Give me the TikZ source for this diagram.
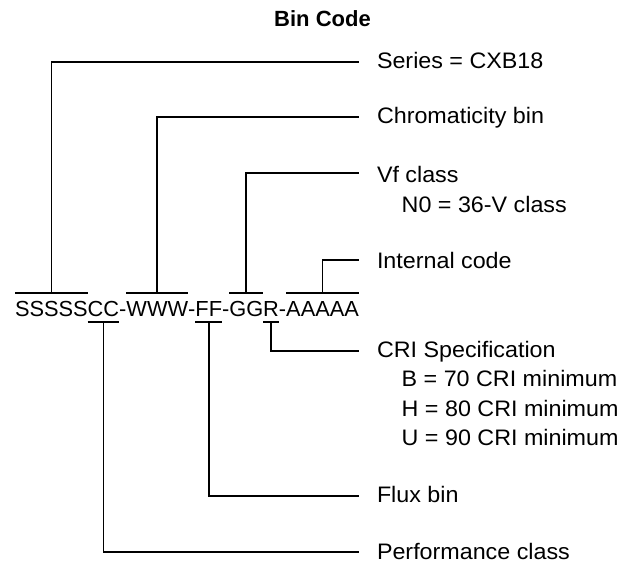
\documentclass[tikz,border=0pt]{standalone}
\usepackage{fontspec}
\setmainfont{Liberation Sans}
\newfontfamily\labfont[FakeStretch=1.04]{Liberation Sans}
\begin{document}
\begin{tikzpicture}[x=1pt,y=-1pt,line width=1.7pt,
  code/.style={inner sep=0pt,outer sep=0pt,anchor=base west,font=\fontsize{21.8}{26}\selectfont},
  lab/.style={inner sep=0pt,outer sep=0pt,anchor=base west,font=\labfont\fontsize{22.4}{26}\selectfont},
  ttl/.style={inner sep=0pt,anchor=base,font=\bfseries\fontsize{22}{26}\selectfont}]
\useasboundingbox (0,0) rectangle (637,567);
\node[ttl] (title) at (322.5,26.5) {Bin Code};
% code string
\node[code] (s) at (15,316.5) {SSSSS};
\node[code] (c) at (s.base east) {CC};
\node[code] (h1) at (c.base east) {-};
\node[code] (w) at (h1.base east) {WWW};
\node[code] (h2) at (w.base east) {-};
\node[code] (f) at (h2.base east) {FF};
\node[code] (h3) at (f.base east) {-};
\node[code] (g) at (h3.base east) {GG};
\node[code] (r) at (g.base east) {R};
\node[code] (h4) at (r.base east) {-};
\node[code] (a) at (h4.base east) {AAAAA};
\coordinate (ob) at (0,293.3);
\coordinate (ub) at (0,321.7);
% over/under bars
\draw (s.west |- ob) -- (s.east |- ob);
\draw (w.west |- ob) -- (w.east |- ob);
\draw (g.west |- ob) -- (g.east |- ob);
\draw (a.west |- ob) -- (a.east |- ob);
\draw (c.west |- ub) -- (c.east |- ub);
\draw (f.west |- ub) -- (f.east |- ub);
\draw (r.west |- ub) -- (r.east |- ub);
% connector ends
\coordinate (eSer) at (359,61.7);
\coordinate (eChr) at (359,116.7);
\coordinate (eVf) at (359,173.3);
\coordinate (eInt) at (359,260);
\coordinate (eCri) at (359,351);
\coordinate (eFlux) at (359,495.7);
\coordinate (ePerf) at (359,552.3);
\draw (s.north |- ob) |- (eSer);
\draw (w.north |- ob) |- (eChr);
\draw (g.north |- ob) |- (eVf);
\draw (a.north |- ob) |- (eInt);
\draw (r.south |- ub) |- (eCri);
\draw (f.south |- ub) |- (eFlux);
\draw (c.south |- ub) |- (ePerf);
% labels
\node[lab] (lSer) at (377,69) {Series = CXB18};
\node[lab] (lChr) at (377,124) {Chromaticity bin};
\node[lab] (lVf) at (377,182.5) {Vf class};
\node[lab] (lVf1) at (401.7,212.2) {N0 = 36-V class};
\node[lab] (lInt) at (377,268.5) {Internal code};
\node[lab] (lCri) at (377,357.5) {CRI Specification};
\node[lab] (lCri1) at (401.7,386.9) {B = 70 CRI minimum};
\node[lab] (lCri2) at (401.7,416.3) {H = 80 CRI minimum};
\node[lab] (lCri3) at (401.7,445.7) {U = 90 CRI minimum};
\node[lab] (lFlux) at (377,502.5) {Flux bin};
\node[lab] (lPerf) at (377,559.8) {Performance class};
\end{tikzpicture}
\end{document}
